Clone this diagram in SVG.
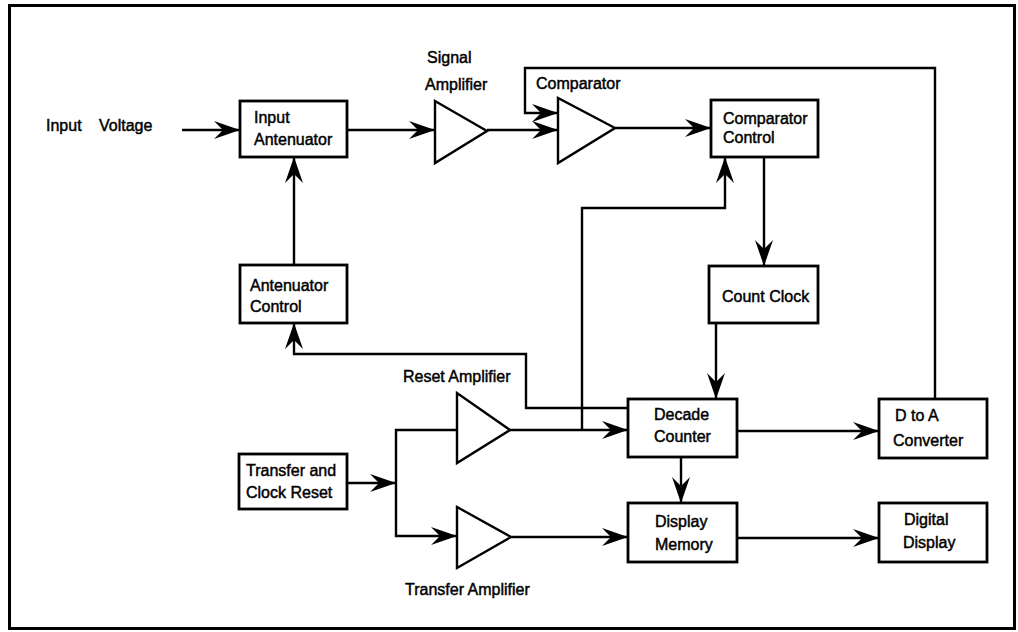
<svg xmlns="http://www.w3.org/2000/svg" width="1018" height="632" viewBox="0 0 1018 632">
<style>
.box{fill:#fff;stroke:#000;stroke-width:2.8}
.amp{fill:#fff;stroke:#000;stroke-width:2.4;stroke-linejoin:miter}
.ln{fill:none;stroke:#000;stroke-width:2.4}
.arr{marker-end:url(#ah)}
text{font-family:"Liberation Sans",Arial,sans-serif;font-size:16px;fill:#000;stroke:#000;stroke-width:0.45}
</style>
<defs>
<marker id="ah" markerUnits="userSpaceOnUse" viewBox="-27 -9.5 28 19" markerWidth="28" markerHeight="19" refX="0" refY="0" orient="auto">
<path d="M0,0 L-26,-9 L-17,0 L-26,9 Z" fill="#000"/>
</marker>
</defs>
<rect x="0" y="0" width="1018" height="632" fill="#fff"/>
<rect x="9.5" y="5.5" width="1005" height="623" fill="none" stroke="#000" stroke-width="3"/>

<g id="connectors">
<path class="ln arr" d="M182,130 H240"/>
<path class="ln arr" d="M347,130 H435"/>
<path class="ln arr" d="M487,130 H558"/>
<path class="ln arr" d="M935,399 V68 H525 V113 H558"/>
<path class="ln arr" d="M615,128 H711"/>
<path class="ln arr" d="M764,157 V266"/>
<path class="ln arr" d="M582,430 V208 H725 V157"/>
<path class="ln arr" d="M294,265 V157"/>
<path class="ln arr" d="M628,408 H526 V354 H294 V323"/>
<path class="ln arr" d="M510,430 H628"/>
<path class="ln arr" d="M716,323 V399"/>
<path class="ln arr" d="M737,431 H879"/>
<path class="ln arr" d="M681,457 V503"/>
<path class="ln arr" d="M737,538 H879"/>
<path class="ln arr" d="M347,483 H396"/>
<path class="ln arr" d="M457,430 H396 V536 H457"/>
<path class="ln arr" d="M511,537 H628"/>
</g>

<g id="input-voltage">
<text><tspan x="46" y="131">Input</tspan> <tspan x="99" y="131">Voltage</tspan></text>
</g>

<g id="input-antenuator">
<rect class="box" x="240" y="101" width="107" height="56"/>
<text x="254" y="123">Input</text>
<text x="254" y="145">Antenuator</text>
</g>

<g id="signal-amplifier">
<polygon class="amp" points="435,101 435,163 487,131"/>
<text x="427" y="63">Signal</text>
<text x="425" y="90">Amplifier</text>
</g>

<g id="comparator">
<polygon class="amp" points="558,98 558,163 615,128"/>
<text x="536" y="89">Comparator</text>
</g>

<g id="comparator-control">
<rect class="box" x="711" y="100" width="107" height="57"/>
<text x="723" y="124">Comparator</text>
<text x="723" y="143">Control</text>
</g>

<g id="count-clock">
<rect class="box" x="709" y="266" width="109" height="57"/>
<text x="722" y="302">Count Clock</text>
</g>

<g id="antenuator-control">
<rect class="box" x="240" y="265" width="107" height="58"/>
<text x="250" y="291">Antenuator</text>
<text x="250" y="312">Control</text>
</g>

<g id="reset-amplifier">
<polygon class="amp" points="457,393 457,463 510,430"/>
<text x="403" y="382">Reset Amplifier</text>
</g>

<g id="transfer-amplifier">
<polygon class="amp" points="457,507 457,568 511,537"/>
<text x="405" y="595">Transfer Amplifier</text>
</g>

<g id="transfer-clock-reset">
<rect class="box" x="239" y="454" width="108" height="55"/>
<text x="246" y="476">Transfer and</text>
<text x="246" y="498">Clock Reset</text>
</g>

<g id="decade-counter">
<rect class="box" x="628" y="399" width="109" height="58"/>
<text x="654" y="420">Decade</text>
<text x="654" y="442">Counter</text>
</g>

<g id="d-to-a-converter">
<rect class="box" x="879" y="399" width="108" height="59"/>
<text x="895" y="421">D to A</text>
<text x="893" y="446">Converter</text>
</g>

<g id="display-memory">
<rect class="box" x="628" y="503" width="109" height="59"/>
<text x="655" y="527">Display</text>
<text x="655" y="550">Memory</text>
</g>

<g id="digital-display">
<rect class="box" x="879" y="503" width="108" height="59"/>
<text x="904" y="525">Digital</text>
<text x="903" y="548">Display</text>
</g>
</svg>
